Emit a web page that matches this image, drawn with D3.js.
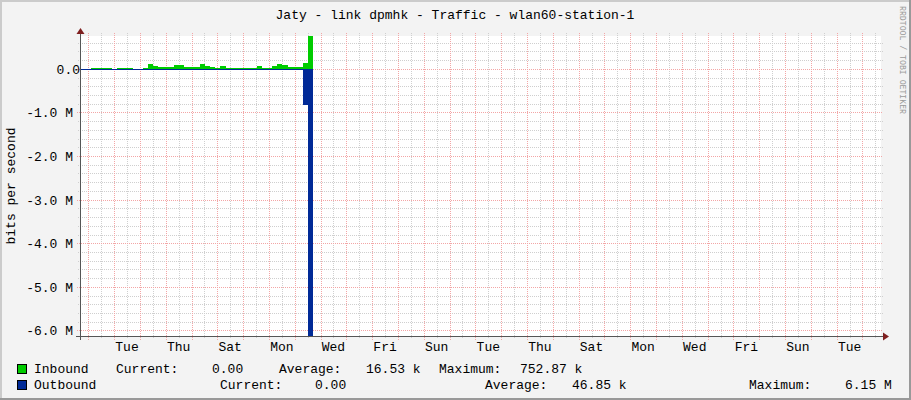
<!DOCTYPE html>
<html><head><meta charset="utf-8">
<script src="https://cdn.jsdelivr.net/npm/d3@7"></script>
<style>
body{margin:0;background:#f3f3f3}
svg{display:block}
text{font-family:"Liberation Mono","DejaVu Sans Mono",monospace;fill:#000}
</style>
</head><body>
<svg id="c" width="911" height="400"></svg>
<script>
// ---------------- data ----------------
const title = "Jaty - link dpmhk - Traffic - wlan60-station-1";
const yAxisTitle = "bits per second";
const watermark = "RRDTOOL / TOBI OETIKER";
const seriesNames = ["Inbound", "Outbound"];
const seriesColors = ["#00CC00", "#002A97"];
const periodStart = "2023-12-31T17:13:00Z";
const periodDays = 31;
const firstSample = "2023-12-31T17:16:48Z";
const sampleHours = 4.8;
// kbit/s per sample
const inboundK = [0, 0, 25, 25, 25, 25, 0, 25, 25, 25, 0, 0, 15, 105, 75, 50, 50, 50, 80, 80,
  50, 50, 50, 105, 75, 50, 30, 60, 25, 25, 25, 25, 25, 25, 60, 30, 30, 60, 105, 80, 50, 50, 50, 125, 752.87];
const outboundK = [25, 25, 25, 25, 25, 25, 25, 25, 25, 25, 25, 25, 25, 25, 25, 25, 25, 25, 25, 25,
  25, 25, 25, 25, 25, 25, 25, 25, 25, 25, 25, 25, 25, 25, 25, 25, 25, 25, 25, 25, 25, 25, 25, 830, 6150];
const yTicks = [0, -1e6, -2e6, -3e6, -4e6, -5e6, -6e6];
const yTickLabels = ["0.0", "-1.0 M", "-2.0 M", "-3.0 M", "-4.0 M", "-5.0 M", "-6.0 M"];
const xTickLabels = ["Tue", "Thu", "Sat", "Mon", "Wed", "Fri", "Sun", "Tue", "Thu", "Sat", "Mon", "Wed", "Fri", "Sun", "Tue"];
const firstLabelNoon = "2024-01-02T12:00:00Z";
const legendIn = ["Current:", "0.00", "Average:", "16.53 k", "Maximum:", "752.87 k"];
const legendOut = ["Current:", "0.00", "Average:", "46.85 k", "Maximum:", "6.15 M"];
const inMax = 752870, outMax = 6150000;

// ---------------- drawing ----------------
const svg = d3.select("#c");
const W = 911, H = 400;
const L = 81, R = 881, T = 36, B = 337;
const DAY = 864e5;
const t0 = new Date(periodStart);
const t1 = new Date(+t0 + periodDays * DAY);
const x = d3.scaleUtc().domain([t0, t1]).range([L, R]);
const y = d3.scaleLinear().domain([-outMax, inMax]).range([B, T]);

// background + shade frame
svg.append("rect").attr("width", W).attr("height", H).attr("fill", "#f3f3f3");
svg.append("rect").attr("x", 0).attr("y", 0).attr("width", W).attr("height", 2).attr("fill", "#cbcbcb");
svg.append("rect").attr("x", 0).attr("y", 0).attr("width", 2).attr("height", H).attr("fill", "#cbcbcb");
svg.append("rect").attr("x", 0).attr("y", H - 2).attr("width", W).attr("height", 2).attr("fill", "#999");
svg.append("rect").attr("x", W - 2).attr("y", 0).attr("width", 2).attr("height", H).attr("fill", "#999");

svg.append("rect").attr("x", L).attr("y", T).attr("width", R - L).attr("height", B - T - 1).attr("fill", "#fff");

const grid = svg.append("g").attr("shape-rendering", "crispEdges");
const px = v => Math.round(v) + 0.5;
// minor horizontal (every 0.2M)
const minorY = d3.range(0, -6.2e6, -2e5).concat(d3.range(2e5, inMax, 2e5));
minorY.forEach(v => {
  if (v % 1e6 === 0) return;
  grid.append("line").attr("x1", L - 3).attr("x2", R + 2).attr("y1", px(y(v))).attr("y2", px(y(v)))
    .attr("stroke", "#cfcfcf").attr("stroke-dasharray", "1,1");
});
// minor vertical (every 12h)
d3.utcHour.every(12).range(t0, t1).forEach(t => {
  if (t.getUTCHours() === 0) return;
  grid.append("line").attr("y1", T - 3).attr("y2", B + 2).attr("x1", px(x(t))).attr("x2", px(x(t)))
    .attr("stroke", "#cfcfcf").attr("stroke-dasharray", "1,1");
});
// major horizontal
yTicks.forEach(v => {
  grid.append("line").attr("x1", L - 4).attr("x2", R + 2).attr("y1", px(y(v))).attr("y2", px(y(v)))
    .attr("stroke", "#f3a6a6").attr("stroke-dasharray", "1,1");
});
// major vertical (days)
d3.utcDay.range(t0, t1).forEach(t => {
  grid.append("line").attr("y1", T - 3).attr("y2", B + 3).attr("x1", px(x(t))).attr("x2", px(x(t)))
    .attr("stroke", "#f3a6a6").attr("stroke-dasharray", "1,1");
});

// series
const s0 = new Date(firstSample);
const mk = arr => {
  const pts = arr.map((v, i) => ({t: new Date(+s0 + i * sampleHours * 36e5), v: v * 1000}));
  pts.push({t: new Date(+s0 + arr.length * sampleHours * 36e5), v: arr[arr.length - 1] * 1000});
  return pts;
};
svg.append("clipPath").attr("id", "clip").append("rect").attr("x", L).attr("y", T).attr("width", R - L).attr("height", B - T);
const gArea = svg.append("g").attr("clip-path", "url(#clip)").attr("shape-rendering", "crispEdges");
gArea.append("path").datum(mk(inboundK))
  .attr("d", d3.area().curve(d3.curveStepAfter).x(d => x(d.t)).y0(y(0)).y1(d => y(d.v)))
  .attr("fill", seriesColors[0]);
gArea.append("path").datum(mk(outboundK))
  .attr("d", d3.area().curve(d3.curveStepAfter).x(d => x(d.t)).y0(y(0)).y1(d => y(-d.v)))
  .attr("fill", seriesColors[1]);

// axes
const ax = svg.append("g").attr("shape-rendering", "crispEdges");
ax.append("line").attr("x1", 80.5).attr("x2", 80.5).attr("y1", 31).attr("y2", B + 3).attr("stroke", "#555");
ax.append("line").attr("x1", L - 5).attr("x2", R + 3).attr("y1", B - 0.5).attr("y2", B - 0.5).attr("stroke", "#555");
svg.append("path").attr("d", `M76.5,34 L80.5,28 L84.5,34 Z`).attr("fill", "#7f1f1f");
svg.append("path").attr("d", `M${R + 2},${B - 4.5} L${R + 8},${B - 0.5} L${R + 2},${B + 3.5} Z`).attr("fill", "#7f1f1f");

// y tick labels
yTicks.forEach((v, i) => {
  svg.append("text").attr("x", v === 0 ? 80 : 73).attr("y", Math.round(y(v)) + 5)
    .attr("text-anchor", "end").attr("font-size", 13).text(yTickLabels[i]);
});
// x tick labels
const noon0 = new Date(firstLabelNoon);
xTickLabels.forEach((lab, i) => {
  svg.append("text").attr("x", x(new Date(+noon0 + i * 2 * DAY))).attr("y", 351)
    .attr("text-anchor", "middle").attr("font-size", 13).text(lab);
});

// titles
svg.append("text").attr("x", 455).attr("y", 19).attr("text-anchor", "middle").attr("font-size", 13).text(title);
svg.append("text").attr("transform", "translate(14.5,186) rotate(-90)").attr("text-anchor", "middle")
  .attr("font-size", 13).text(yAxisTitle);
svg.append("text").attr("transform", "translate(900,6) rotate(90)").attr("font-size", 9)
  .attr("textLength", 108).attr("lengthAdjust", "spacingAndGlyphs")
  .style("fill", "#9a9a9a").text(watermark);

// legend
const leg = [[seriesNames[0], seriesColors[0], 373, legendIn, [116, 212, 279, 366, 439, 520]],
             [seriesNames[1], seriesColors[1], 389, legendOut, [220, 315, 485, 572, 749, 845]]];
leg.forEach(([name, col, by, vals, xs]) => {
  svg.append("rect").attr("x", 17.5).attr("y", by - 8.5).attr("width", 9).attr("height", 9)
    .attr("fill", col).attr("stroke", "#000").attr("shape-rendering", "crispEdges");
  svg.append("text").attr("x", 34).attr("y", by).attr("font-size", 13).text(name);
  vals.forEach((s, j) => svg.append("text").attr("x", xs[j]).attr("y", by).attr("font-size", 13).text(s));
});
</script>
</body></html>
